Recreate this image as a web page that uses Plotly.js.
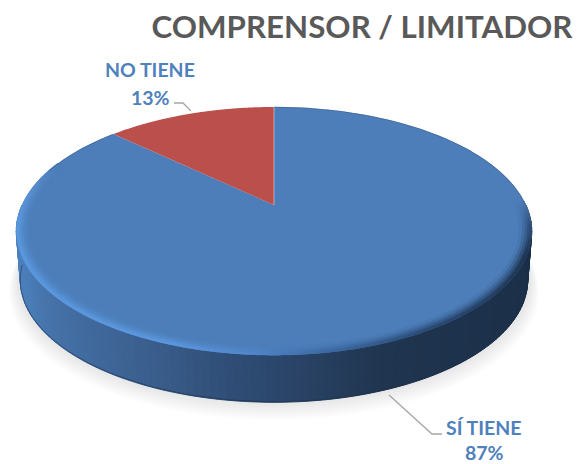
<!DOCTYPE html>
<html>
<head>
<meta charset="utf-8">
<script src="https://cdn.plot.ly/plotly-3.0.1.min.js"></script>
<style>html,body{margin:0;padding:0;background:#fff}#c{width:577px;height:464px}</style>
</head>
<body>
<div id="c"></div>
<script>
const chartTitle = 'COMPRENSOR / LIMITADOR';
const categories = ['SÍ TIENE', 'NO TIENE'];
const values = [87, 13];
const sliceColors = ['#4d7eb9', '#bb4f4c'];

// projection of the tilted disc to plot coordinates
const P = {cx: 274, cy: 205, b: 252, up: 118.6, k: 0.21, depth: 50, bottomScale: 0.985};
function project(deg, r, drop) {
  const t = deg * Math.PI / 180, X = r * Math.sin(t), Y = r * Math.cos(t), d = 1 + P.k * Y;
  return [P.cx + P.b * X / d, P.cy - P.up * Y / d + (drop || 0)];
}
function hex(c) { return [1, 3, 5].map(i => parseInt(c.substr(i, 2), 16)); }
function mix(a, b, f) {
  const A = hex(a), B = hex(b);
  return 'rgb(' + A.map((v, i) => Math.round(v + (B[i] - v) * f)).join(',') + ')';
}
function ramp(stops, v) {
  if (v <= stops[0][0]) return stops[0][1];
  for (let i = 1; i < stops.length; i++) {
    if (v <= stops[i][0]) {
      const f = (v - stops[i - 1][0]) / (stops[i][0] - stops[i - 1][0]);
      const c = mix(stops[i - 1][1], stops[i][1], f).match(/\d+/g).map(Number);
      return '#' + c.map(n => n.toString(16).padStart(2, '0')).join('');
    }
  }
  return stops[stops.length - 1][1];
}
const base = {type: 'scatter', hoverinfo: 'skip', showlegend: false};
const traces = [];

// soft ground shadow
for (let i = 0; i < 12; i++) {
  const xs = [], ys = [], s = 0.995 + i * 0.003;
  for (let a = 0; a <= 360; a += 3) {
    const p = project(a, s, 50 + i * 0.9);
    xs.push(p[0]); ys.push(p[1]);
  }
  traces.push({...base, x: xs, y: ys, mode: 'none', fill: 'toself', fillcolor: 'rgba(0,0,0,0.0085)'});
}

// side wall, shaded across its width
const wallStops = [[18, '#4c80bd'], [45, '#4673aa'], [90, '#40699c'], [150, '#3a5e8c'], [230, '#2f4d76'], [300, '#294366'], [380, '#20354f'], [530, '#1b2f49']];
const wallStep = 1.5;
for (let a = 90; a < 270; a += wallStep) {
  const p1 = project(a, 1, 0), p2 = project(a + wallStep, 1, 0);
  const p3 = project(a + wallStep, P.bottomScale, P.depth), p4 = project(a, P.bottomScale, P.depth);
  const col = ramp(wallStops, (p1[0] + p2[0]) / 2);
  traces.push({...base, x: [p1[0], p2[0], p3[0], p4[0], p1[0]], y: [p1[1], p2[1], p3[1], p4[1], p1[1]],
    mode: 'lines', line: {color: col, width: 1}, fill: 'toself', fillcolor: col});
}
// dark lower edge of the wall
{
  const xs = [], ys = [];
  for (let a = 95; a <= 265; a += 2) { const p = project(a, P.bottomScale, P.depth - 0.5); xs.push(p[0]); ys.push(p[1]); }
  traces.push({...base, x: xs, y: ys, mode: 'lines', line: {color: '#1b2d46', width: 1}, opacity: 0.55});
}

// top face slices from the values, clockwise from 12 o'clock
const total = values.reduce((s, v) => s + v, 0);
let start = 0;
const sliceSpans = [];
values.forEach((v, i) => {
  const sweep = v / total * 360;
  sliceSpans.push([start, start + sweep]);
  const xs = [P.cx], ys = [P.cy];
  for (let s = 0; s <= 200; s++) {
    const p = project(start + sweep * s / 200, 1, 0);
    xs.push(p[0]); ys.push(p[1]);
  }
  xs.push(P.cx); ys.push(P.cy);
  traces.push({...base, x: xs, y: ys, mode: 'none', fill: 'toself', fillcolor: sliceColors[i]});
  start += sweep;
});

// bevel of the large slice: front only, fading into the face
const rimStops = [[88, '#4d7eb9'], [100, '#2f5079'], [114, '#1f3551'], [150, '#2a4a74'], [172, '#3f6ca6'], [185, '#5288cc'], [200, '#5b97de'], [262, '#5b97de'], [276, '#5a90d2'], [292, '#4d7eb9']];
[[0.962, 0.1, 5], [0.972, 0.32, 4], [0.981, 0.58, 3.5], [0.989, 0.82, 3], [0.995, 1, 2.5]].forEach(ring => {
  const xs = [], ys = [], cs = [];
  for (let a = 88; a <= 292; a += 0.3) {
    const p = project(a, ring[0], 0);
    xs.push(p[0]); ys.push(p[1]);
    cs.push(mix(sliceColors[0], ramp(rimStops, a), ring[1]));
  }
  traces.push({...base, x: xs, y: ys, mode: 'markers', marker: {size: ring[2], color: cs, line: {width: 0}}});
});
// thin darker hairline along the far edge
[[0, 92], [288, sliceSpans[0][1]]].forEach(span => {
  const xs = [], ys = [];
  for (let a = span[0]; a <= span[1]; a += 1) { const p = project(a, 0.998, 0); xs.push(p[0]); ys.push(p[1]); }
  traces.push({...base, x: xs, y: ys, mode: 'lines', line: {color: '#3d6494', width: 1}, opacity: 0.7});
});

// faint line between the slices
{
  const p = project(0, 1, 0);
  traces.push({...base, x: [P.cx, p[0]], y: [P.cy, p[1]], mode: 'lines', line: {color: 'rgba(255,255,255,0.55)', width: 0.8}});
}

const labelFont = {family: 'Lato, Carlito, sans-serif', size: 19.5, color: '#4f81bd'};
function label(x, y, text) {
  return {x, y, xref: 'x', yref: 'y', text: '<b>' + text + '</b>', showarrow: false, xanchor: 'center', yanchor: 'middle', font: labelFont};
}
function pct(i) { return Math.round(values[i] / total * 100) + '%'; }
const leader = {color: '#a6a6a6', width: 1.3};

Plotly.newPlot('c', traces, {
  width: 577, height: 464,
  margin: {l: 0, r: 0, t: 0, b: 0},
  paper_bgcolor: '#ffffff', plot_bgcolor: '#ffffff',
  showlegend: false,
  title: {text: '<b>' + chartTitle + '</b>', x: 362 / 577, xanchor: 'center', xref: 'paper', y: 1 - 27 / 464, yanchor: 'middle',
    font: {family: 'Lato, Carlito, sans-serif', size: 31.3, color: '#595959'}},
  xaxis: {range: [0, 577], visible: false, fixedrange: true},
  yaxis: {range: [464, 0], visible: false, fixedrange: true},
  annotations: [
    label(150, 69, categories[1]), label(150, 97, pct(1)),
    label(484, 427, categories[0]), label(484, 452, pct(0))
  ],
  shapes: [
    {type: 'path', xref: 'x', yref: 'y', path: 'M174 103 L183 103 L191 111', line: leader},
    {type: 'path', xref: 'x', yref: 'y', path: 'M389 395 L432 434 L442 434', line: leader}
  ]
}, {displayModeBar: false, staticPlot: true});
</script>
</body>
</html>
